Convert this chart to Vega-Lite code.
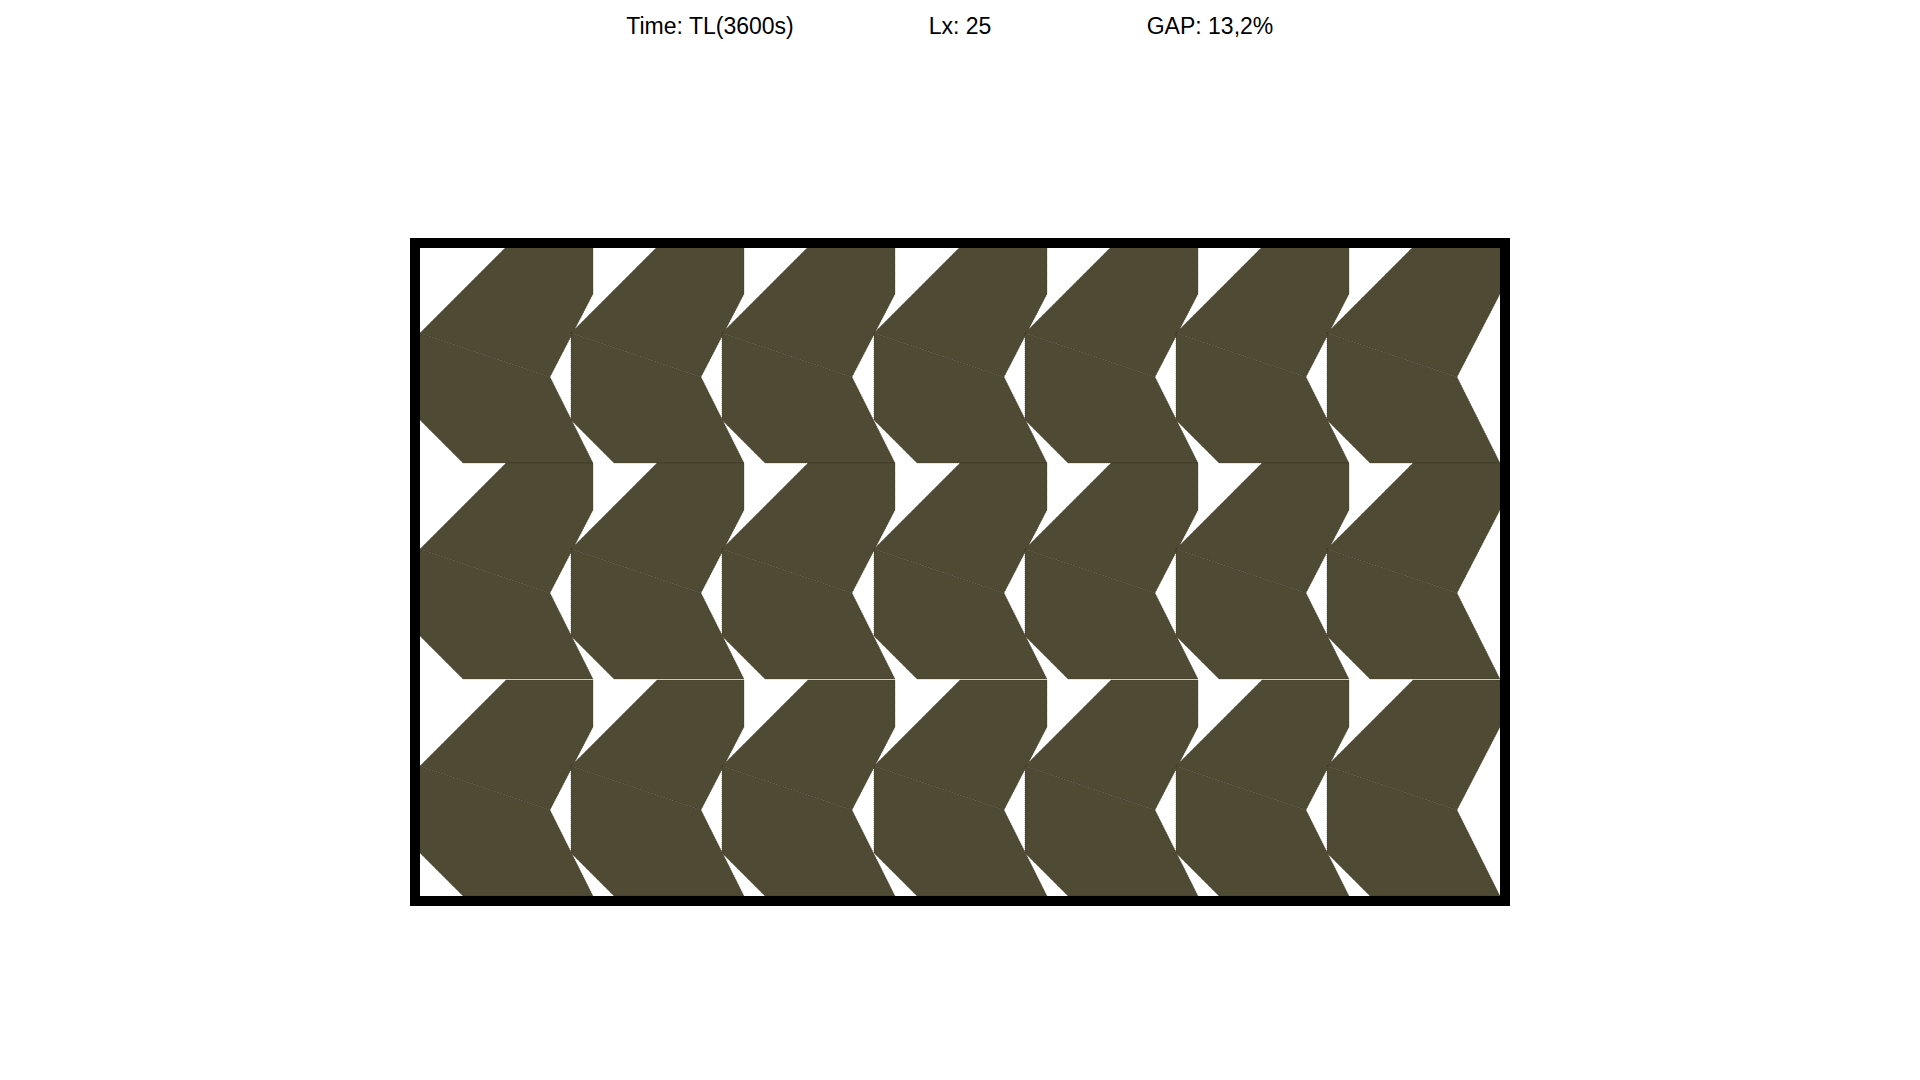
{
  "$schema": "https://vega.github.io/schema/vega-lite/v6.json",
  "width": 1920,
  "height": 1080,
  "padding": 0,
  "autosize": "none",
  "background": "white",
  "config": {"view": {"stroke": null}},
  "projection": {"type": "identity"},
  "layer": [
    {
      "data": {"values": [{"type": "Feature", "properties": {}, "geometry": {"type": "Polygon", "coordinates": [[[0,0],[1920,0],[1920,1080],[0,1080],[0,0]]]}}]},
      "mark": {"type": "geoshape", "fill": "white", "stroke": null, "opacity": 0}
    },
    {
      "data": {"values": [
        {"type":"Feature","properties":{},"geometry":{"type":"Polygon","coordinates":[[[420,333],[506,247],[593,247],[593,294],[550,377],[420,333]]]}},
        {"type":"Feature","properties":{},"geometry":{"type":"Polygon","coordinates":[[[420,333],[550,377],[593,463],[463,463],[420,420],[420,333]]]}},
        {"type":"Feature","properties":{},"geometry":{"type":"Polygon","coordinates":[[[420,549],[506,463],[593,463],[593,510],[550,593],[420,549]]]}},
        {"type":"Feature","properties":{},"geometry":{"type":"Polygon","coordinates":[[[420,549],[550,593],[593,679],[463,679],[420,636],[420,549]]]}},
        {"type":"Feature","properties":{},"geometry":{"type":"Polygon","coordinates":[[[420,766],[506,680],[593,680],[593,727],[550,810],[420,766]]]}},
        {"type":"Feature","properties":{},"geometry":{"type":"Polygon","coordinates":[[[420,766],[550,810],[593,896],[463,896],[420,853],[420,766]]]}},

        {"type":"Feature","properties":{},"geometry":{"type":"Polygon","coordinates":[[[571,333],[657,247],[744,247],[744,294],[701,377],[571,333]]]}},
        {"type":"Feature","properties":{},"geometry":{"type":"Polygon","coordinates":[[[571,333],[701,377],[744,463],[614,463],[571,420],[571,333]]]}},
        {"type":"Feature","properties":{},"geometry":{"type":"Polygon","coordinates":[[[571,549],[657,463],[744,463],[744,510],[701,593],[571,549]]]}},
        {"type":"Feature","properties":{},"geometry":{"type":"Polygon","coordinates":[[[571,549],[701,593],[744,679],[614,679],[571,636],[571,549]]]}},
        {"type":"Feature","properties":{},"geometry":{"type":"Polygon","coordinates":[[[571,766],[657,680],[744,680],[744,727],[701,810],[571,766]]]}},
        {"type":"Feature","properties":{},"geometry":{"type":"Polygon","coordinates":[[[571,766],[701,810],[744,896],[614,896],[571,853],[571,766]]]}},

        {"type":"Feature","properties":{},"geometry":{"type":"Polygon","coordinates":[[[722,333],[808,247],[895,247],[895,294],[852,377],[722,333]]]}},
        {"type":"Feature","properties":{},"geometry":{"type":"Polygon","coordinates":[[[722,333],[852,377],[895,463],[765,463],[722,420],[722,333]]]}},
        {"type":"Feature","properties":{},"geometry":{"type":"Polygon","coordinates":[[[722,549],[808,463],[895,463],[895,510],[852,593],[722,549]]]}},
        {"type":"Feature","properties":{},"geometry":{"type":"Polygon","coordinates":[[[722,549],[852,593],[895,679],[765,679],[722,636],[722,549]]]}},
        {"type":"Feature","properties":{},"geometry":{"type":"Polygon","coordinates":[[[722,766],[808,680],[895,680],[895,727],[852,810],[722,766]]]}},
        {"type":"Feature","properties":{},"geometry":{"type":"Polygon","coordinates":[[[722,766],[852,810],[895,896],[765,896],[722,853],[722,766]]]}},

        {"type":"Feature","properties":{},"geometry":{"type":"Polygon","coordinates":[[[874,333],[960,247],[1047,247],[1047,294],[1004,377],[874,333]]]}},
        {"type":"Feature","properties":{},"geometry":{"type":"Polygon","coordinates":[[[874,333],[1004,377],[1047,463],[917,463],[874,420],[874,333]]]}},
        {"type":"Feature","properties":{},"geometry":{"type":"Polygon","coordinates":[[[874,549],[960,463],[1047,463],[1047,510],[1004,593],[874,549]]]}},
        {"type":"Feature","properties":{},"geometry":{"type":"Polygon","coordinates":[[[874,549],[1004,593],[1047,679],[917,679],[874,636],[874,549]]]}},
        {"type":"Feature","properties":{},"geometry":{"type":"Polygon","coordinates":[[[874,766],[960,680],[1047,680],[1047,727],[1004,810],[874,766]]]}},
        {"type":"Feature","properties":{},"geometry":{"type":"Polygon","coordinates":[[[874,766],[1004,810],[1047,896],[917,896],[874,853],[874,766]]]}},

        {"type":"Feature","properties":{},"geometry":{"type":"Polygon","coordinates":[[[1025,333],[1111,247],[1198,247],[1198,294],[1155,377],[1025,333]]]}},
        {"type":"Feature","properties":{},"geometry":{"type":"Polygon","coordinates":[[[1025,333],[1155,377],[1198,463],[1068,463],[1025,420],[1025,333]]]}},
        {"type":"Feature","properties":{},"geometry":{"type":"Polygon","coordinates":[[[1025,549],[1111,463],[1198,463],[1198,510],[1155,593],[1025,549]]]}},
        {"type":"Feature","properties":{},"geometry":{"type":"Polygon","coordinates":[[[1025,549],[1155,593],[1198,679],[1068,679],[1025,636],[1025,549]]]}},
        {"type":"Feature","properties":{},"geometry":{"type":"Polygon","coordinates":[[[1025,766],[1111,680],[1198,680],[1198,727],[1155,810],[1025,766]]]}},
        {"type":"Feature","properties":{},"geometry":{"type":"Polygon","coordinates":[[[1025,766],[1155,810],[1198,896],[1068,896],[1025,853],[1025,766]]]}},

        {"type":"Feature","properties":{},"geometry":{"type":"Polygon","coordinates":[[[1176,333],[1262,247],[1349,247],[1349,294],[1306,377],[1176,333]]]}},
        {"type":"Feature","properties":{},"geometry":{"type":"Polygon","coordinates":[[[1176,333],[1306,377],[1349,463],[1219,463],[1176,420],[1176,333]]]}},
        {"type":"Feature","properties":{},"geometry":{"type":"Polygon","coordinates":[[[1176,549],[1262,463],[1349,463],[1349,510],[1306,593],[1176,549]]]}},
        {"type":"Feature","properties":{},"geometry":{"type":"Polygon","coordinates":[[[1176,549],[1306,593],[1349,679],[1219,679],[1176,636],[1176,549]]]}},
        {"type":"Feature","properties":{},"geometry":{"type":"Polygon","coordinates":[[[1176,766],[1262,680],[1349,680],[1349,727],[1306,810],[1176,766]]]}},
        {"type":"Feature","properties":{},"geometry":{"type":"Polygon","coordinates":[[[1176,766],[1306,810],[1349,896],[1219,896],[1176,853],[1176,766]]]}},

        {"type":"Feature","properties":{},"geometry":{"type":"Polygon","coordinates":[[[1327,333],[1413,247],[1500,247],[1500,294],[1457,377],[1327,333]]]}},
        {"type":"Feature","properties":{},"geometry":{"type":"Polygon","coordinates":[[[1327,333],[1457,377],[1500,463],[1370,463],[1327,420],[1327,333]]]}},
        {"type":"Feature","properties":{},"geometry":{"type":"Polygon","coordinates":[[[1327,549],[1413,463],[1500,463],[1500,510],[1457,593],[1327,549]]]}},
        {"type":"Feature","properties":{},"geometry":{"type":"Polygon","coordinates":[[[1327,549],[1457,593],[1500,679],[1370,679],[1327,636],[1327,549]]]}},
        {"type":"Feature","properties":{},"geometry":{"type":"Polygon","coordinates":[[[1327,766],[1413,680],[1500,680],[1500,727],[1457,810],[1327,766]]]}},
        {"type":"Feature","properties":{},"geometry":{"type":"Polygon","coordinates":[[[1327,766],[1457,810],[1500,896],[1370,896],[1327,853],[1327,766]]]}}
      ]},
      "mark": {"type": "geoshape", "fill": "#4F4A33", "stroke": "#2a2818", "strokeWidth": 0.5, "strokeDash": [1, 1]}
    },
    {
      "data": {"values": [{"type": "Feature", "properties": {}, "geometry": {"type": "Polygon", "coordinates": [[[415,243],[1505,243],[1505,901],[415,901],[415,243]]]}}]},
      "mark": {"type": "geoshape", "fill": null, "filled": false, "stroke": "black", "strokeWidth": 10}
    },
    {
      "data": {"values": [
        {"label": "Time: TL(3600s)", "lon": 710, "lat": 27},
        {"label": "Lx: 25", "lon": 960, "lat": 27},
        {"label": "GAP: 13,2%", "lon": 1210, "lat": 27}
      ]},
      "mark": {"type": "text", "font": "Liberation Sans", "fontSize": 23, "baseline": "middle", "align": "center", "color": "black"},
      "encoding": {
        "longitude": {"field": "lon", "type": "quantitative"},
        "latitude": {"field": "lat", "type": "quantitative"},
        "text": {"field": "label"}
      }
    }
  ]
}
